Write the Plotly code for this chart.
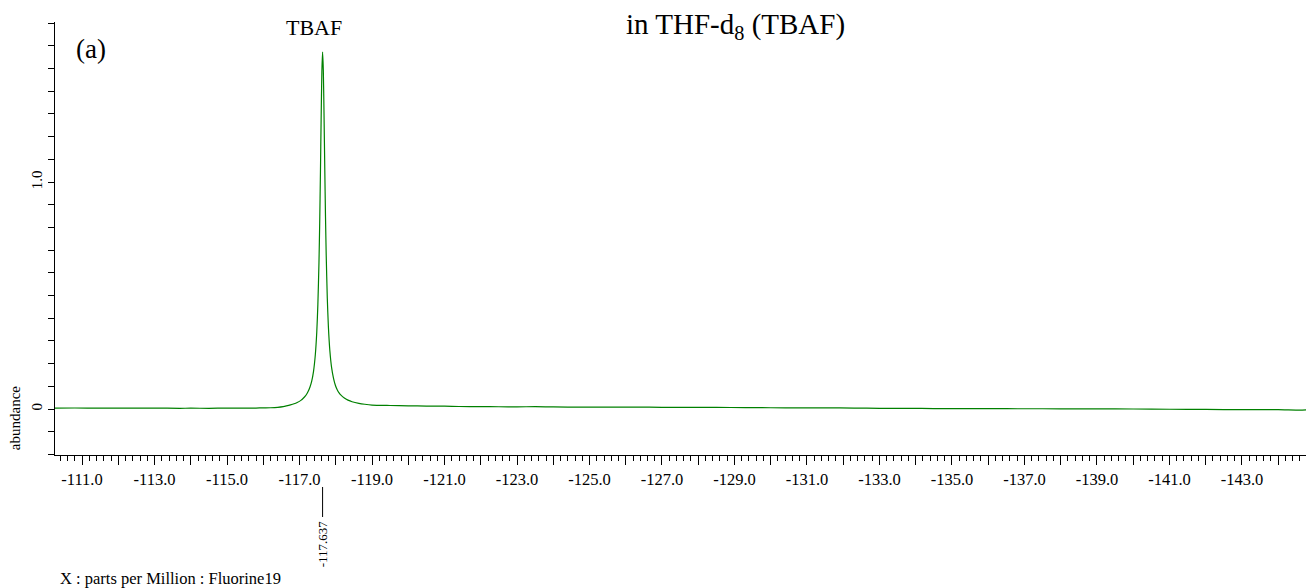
import plotly.graph_objects as go

# 19F NMR spectrum of TBAF in THF-d8
peak_ppm = -117.637

ppm = [
    -110.25, -110.8, -111.5, -112.0, -112.6, -113.0, -113.7, -114.0, -114.5,
    -115.0, -115.4, -115.8, -116.0, -116.2, -116.4, -116.55,
    -116.637, -116.75, -116.85, -116.937, -117.037, -117.137, -117.187, -117.237,
    -117.287, -117.337, -117.387, -117.437, -117.477, -117.507, -117.537,
    -117.557, -117.577, -117.597, -117.617,
    peak_ppm,
    -117.657, -117.677, -117.697, -117.717, -117.737, -117.767, -117.797,
    -117.837, -117.887, -117.937, -117.987, -118.037, -118.087, -118.137,
    -118.237, -118.337, -118.45, -118.637, -118.8,
    -119.0, -119.5, -120.0, -120.5, -121.0, -121.4, -122.0, -122.5, -123.0,
    -123.5, -124.0, -124.8, -125.5, -126.3, -127.0, -127.8, -128.5, -129.3,
    -130.0, -130.8, -131.5, -132.3, -133.0, -133.8, -134.5, -135.3, -136.0,
    -137.0, -138.0, -139.0, -140.0, -141.0, -142.0, -143.0, -144.0, -144.6,
    -144.77,
]
abundance = [
    0.004, 0.0045, 0.0035, 0.004, 0.0035, 0.004, 0.0032, 0.0036, 0.0032,
    0.004, 0.0036, 0.0042, 0.005, 0.0055, 0.0075, 0.0105,
    0.0135, 0.018, 0.023, 0.029, 0.038, 0.053, 0.063, 0.077,
    0.096, 0.123, 0.166, 0.240, 0.340, 0.462, 0.645,
    0.818, 1.035, 1.278, 1.485,
    1.572,
    1.492, 1.294, 1.062, 0.849, 0.676, 0.488, 0.362,
    0.258, 0.181, 0.136, 0.106, 0.086, 0.072, 0.062,
    0.048, 0.039, 0.032, 0.025, 0.021,
    0.0175, 0.0155, 0.014, 0.013, 0.0125, 0.011, 0.0105, 0.010, 0.0095,
    0.0105, 0.009, 0.0085, 0.008, 0.0082, 0.0075, 0.007, 0.007, 0.0062,
    0.0055, 0.0052, 0.005, 0.0042, 0.003, 0.0028, 0.002, 0.0018, 0.0015,
    0.0012, 0.001, 0.0008, 0.000, -0.001, -0.002, -0.0025, -0.003, -0.005,
    -0.004,
]

# labelled ticks every 2 ppm, unlabelled long ticks on the even values
x_labelled = [-111.0 - 2 * i for i in range(17)]
x_labels = [f"{v:.1f}" for v in x_labelled]
x_even = [-112.0 - 2 * i for i in range(17)]
y_ticks = [0, 1.0]
y_labels = ["0", "1.0"]

serif = "Liberation Serif, 'Times New Roman', serif"
x_range = [-110.255, -144.766]

fig = go.Figure()
fig.add_trace(go.Scatter(
    x=ppm, y=abundance, mode="lines",
    line=dict(color="#008000", width=1.2, shape="spline", smoothing=0.6),
    hoverinfo="skip", showlegend=False,
))

fig.update_layout(
    width=1306, height=588,
    margin=dict(l=55, r=0, t=22, b=133),
    paper_bgcolor="white", plot_bgcolor="white",
    font=dict(family=serif, color="black", size=15),
    xaxis=dict(
        range=x_range,
        showgrid=False, zeroline=False,
        showline=True, linecolor="black", linewidth=1,
        ticks="outside", ticklen=9, tickcolor="black", tickwidth=1,
        tickvals=x_labelled, ticktext=x_labels,
        tickfont=dict(family=serif, size=16.5),
        minor=dict(ticks="outside", ticklen=5, dtick=0.2, tick0=-111.0,
                   tickcolor="black", tickwidth=1, showgrid=False),
    ),
    xaxis2=dict(
        range=x_range, overlaying="x", anchor="y", side="bottom",
        showgrid=False, zeroline=False, showline=False,
        ticks="outside", ticklen=9, tickcolor="black", tickwidth=1,
        tickvals=x_even, showticklabels=False,
    ),
    yaxis=dict(
        range=[-0.2026, 1.7048],
        showgrid=False, zeroline=False,
        showline=True, linecolor="black", linewidth=1,
        ticks="outside", ticklen=6, tickcolor="black", tickwidth=1,
        tickvals=y_ticks, ticktext=y_labels, tickangle=-90,
        tickfont=dict(family=serif, size=15),
        minor=dict(ticks="outside", ticklen=6, dtick=0.1, tick0=0,
                   tickcolor="black", tickwidth=1, showgrid=False),
    ),
)

# an empty trace keeps the second x-axis drawn
fig.add_trace(go.Scatter(x=[], y=[], xaxis="x2", yaxis="y",
                         showlegend=False, hoverinfo="skip"))

# peak position marker below the axis
fig.add_shape(type="line", xref="x", yref="paper",
              x0=peak_ppm, x1=peak_ppm, y0=-0.0739, y1=-0.1432,
              line=dict(color="black", width=1))

annotations = [
    dict(text=f"{peak_ppm:.3f}", x=peak_ppm, xref="x", y=-0.205, yref="paper",
         textangle=-90, font=dict(size=13), xanchor="center", yanchor="middle"),
    dict(text="abundance", x=-0.032, xref="paper", y=0.085, yref="paper",
         textangle=-90, font=dict(size=15), xanchor="center", yanchor="middle"),
    dict(text="X : parts per Million : Fluorine19", x=0.0024, xref="paper",
         y=-0.285, yref="paper", font=dict(size=16.5), xanchor="left", yanchor="middle"),
    dict(text="(a)", x=0.0288, xref="paper", y=0.937, yref="paper",
         font=dict(size=27), xanchor="center", yanchor="middle"),
    dict(text="TBAF", x=0.2070, xref="paper", y=0.988, yref="paper",
         font=dict(size=22), xanchor="center", yanchor="middle"),
    dict(text="in THF-d<sub>8</sub> (TBAF)", x=0.4549, xref="paper", y=0.990,
         yref="paper", font=dict(size=29), xanchor="left", yanchor="middle"),
]
for a in annotations:
    a["showarrow"] = False
    fig.add_annotation(**a)

fig.write_html("out.html")
